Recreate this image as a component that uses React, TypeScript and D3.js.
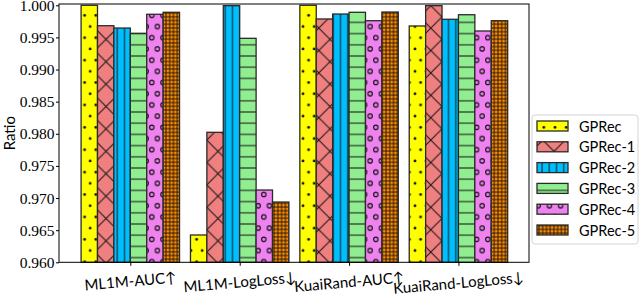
import React, { useEffect, useRef } from 'react';
import * as d3 from 'd3';

const categories = ['ML1M-AUC↑', 'ML1M-LogLoss↓', 'KuaiRand-AUC↑', 'KuaiRand-LogLoss↓'];
const seriesNames = ['GPRec', 'GPRec-1', 'GPRec-2', 'GPRec-3', 'GPRec-4', 'GPRec-5'];
const gprec = [1.0, 0.96425, 1.0, 0.99678];
const gprec1 = [0.99682, 0.98023, 0.99787, 0.99994];
const gprec2 = [0.99646, 0.99994, 0.99864, 0.99782];
const gprec3 = [0.99564, 0.99486, 0.99891, 0.99853];
const gprec4 = [0.9986, 0.97125, 0.9976, 0.996];
const gprec5 = [0.99891, 0.96938, 0.99895, 0.9976];
const yTicks = [0.96, 0.965, 0.97, 0.975, 0.98, 0.985, 0.99, 0.995, 1.0];
const colors = ['#ffff00', '#f08080', '#00bfff', '#90ee90', '#ee82ee', '#ff8c00'];

const series = [gprec, gprec1, gprec2, gprec3, gprec4, gprec5];

export default function App() {
  const svgRef = useRef<SVGSVGElement>(null);
  const width = 640;
  const height = 299;

  useEffect(() => {
    const svg = d3.select(svgRef.current);
    svg.selectAll('*').remove();

    const barW = 0.15;
    const x = d3.scaleLinear().domain([-0.652, 3.645]).range([59, 529]);
    const y = d3.scaleLinear().domain([0.96, 1.0002]).range([262.3, 4]);

    // hatch patterns
    const defs = svg.append('defs');
    const mk = (id: string, w: number, h: number, tx: number, ty: number) =>
      defs.append('pattern')
        .attr('id', id)
        .attr('patternUnits', 'userSpaceOnUse')
        .attr('width', w)
        .attr('height', h)
        .attr('patternTransform', `translate(${tx},${ty})`);

    const dots = mk('h0', 11.2, 22.4, -2.2, 1.3);
    [[2.8, 2.8], [8.4, 14]].forEach(([cx, cy]) =>
      dots.append('circle').attr('cx', cx).attr('cy', cy).attr('r', 1.4).attr('fill', '#111'));

    const cross = mk('h1', 22.4, 22.4, 5.2, 5.7);
    cross.append('path').attr('d', 'M0,0L22.4,22.4M0,22.4L22.4,0')
      .attr('stroke', '#111').attr('stroke-width', 1);

    const vert = mk('h2', 7.2, 10, -1.5, 0);
    vert.append('line').attr('x1', 3.6).attr('x2', 3.6).attr('y1', 0).attr('y2', 10)
      .attr('stroke', '#111').attr('stroke-width', 1);

    const horiz = mk('h3', 10, 11.2, 0, -5.6);
    horiz.append('line').attr('x1', 0).attr('x2', 10).attr('y1', 5.6).attr('y2', 5.6)
      .attr('stroke', '#111').attr('stroke-width', 1);

    const rings = mk('h4', 11.2, 22.4, -2.2, 1.3);
    [[2.8, 2.8], [8.4, 14]].forEach(([cx, cy]) =>
      rings.append('circle').attr('cx', cx).attr('cy', cy).attr('r', 2.2).attr('fill', 'none')
        .attr('stroke', '#111').attr('stroke-width', 1.1));

    const grid = mk('h5', 3.73, 3.73, 0, 0);
    grid.append('path').attr('d', 'M1.87,0V3.73M0,1.87H3.73')
      .attr('stroke', '#111').attr('stroke-width', 0.9);

    // bars
    series.forEach((vals, j) => {
      const g = svg.append('g');
      const bars = g.selectAll('g').data(vals).enter().append('g');
      const bx = (i: number) => x(i + (j - 3) * barW);
      const bw = x(barW) - x(0);
      bars.append('rect')
        .attr('x', (_, i) => bx(i)).attr('y', d => y(d))
        .attr('width', bw).attr('height', d => y(0.96) - y(d))
        .attr('fill', colors[j]);
      bars.append('rect')
        .attr('x', (_, i) => bx(i)).attr('y', d => y(d))
        .attr('width', bw).attr('height', d => y(0.96) - y(d))
        .attr('fill', `url(#h${j})`)
        .attr('stroke', '#2a2a2a').attr('stroke-width', 1.3);
    });

    // y axis
    const yAxis = svg.append('g')
      .attr('transform', 'translate(59,0)')
      .call(d3.axisLeft(y).tickValues(yTicks).tickFormat(d3.format('.3f')).tickSize(3).tickPadding(1.5));
    yAxis.select('.domain').remove();
    yAxis.selectAll('.tick line').attr('stroke', '#000');
    yAxis.selectAll('.tick text')
      .attr('fill', '#000')
      .style('font-family', '"Liberation Serif", serif')
      .style('font-size', '15.5px');

    // x axis ticks
    const xAxis = svg.append('g')
      .attr('transform', `translate(0,${y(0.96)})`)
      .call(d3.axisBottom(x).tickValues([0, 1, 2, 3]).tickFormat(() => '').tickSize(3.5));
    xAxis.select('.domain').remove();
    xAxis.selectAll('.tick line').attr('stroke', '#000');

    // frame
    svg.append('rect')
      .attr('x', 59).attr('y', 4)
      .attr('width', 529 - 59).attr('height', y(0.96) - 4)
      .attr('fill', 'none').attr('stroke', '#000').attr('stroke-width', 1);

    // rotated category labels
    const th = (5 * Math.PI) / 180;
    categories.forEach((c, i) => {
      const t = svg.append('text')
        .style('font-family', 'Lato, sans-serif')
        .style('font-size', '15px')
        .attr('fill', '#000')
        .attr('text-anchor', 'middle')
        .attr('dominant-baseline', 'central')
        .text(c);
      const w = (t.node() as SVGTextElement).getComputedTextLength();
      const cy = 269 + (w * Math.sin(th) + 15 * Math.cos(th)) / 2;
      t.attr('transform', `translate(${x(i)},${cy}) rotate(-5)`);
    });

    // y label
    svg.append('text')
      .attr('transform', `translate(9,${(4 + y(0.96)) / 2}) rotate(-90)`)
      .attr('text-anchor', 'middle')
      .attr('dominant-baseline', 'central')
      .style('font-family', 'Lato, sans-serif')
      .style('font-size', '15px')
      .text('Ratio');

    // legend
    const lg = svg.append('g');
    lg.append('rect')
      .attr('x', 532).attr('y', 115).attr('width', 106).attr('height', 129)
      .attr('rx', 3).attr('fill', '#fff').attr('stroke', '#d4d4d4').attr('stroke-width', 1);
    seriesNames.forEach((name, j) => {
      const cy = 126 + j * 20.8;
      lg.append('rect').attr('x', 537).attr('y', cy - 5).attr('width', 31).attr('height', 10)
        .attr('fill', colors[j]);
      lg.append('rect').attr('x', 537).attr('y', cy - 5).attr('width', 31).attr('height', 10)
        .attr('fill', `url(#h${j})`).attr('stroke', '#2a2a2a').attr('stroke-width', 1.3);
      lg.append('text')
        .attr('x', 579).attr('y', cy)
        .attr('dominant-baseline', 'central')
        .style('font-family', 'Lato, sans-serif')
        .style('font-size', '14.5px')
        .text(name);
    });
  }, []);

  return (
    <svg
      ref={svgRef}
      width={width}
      height={height}
      style={{ position: 'absolute', left: 0, top: 0, background: '#fff' }}
    />
  );
}
